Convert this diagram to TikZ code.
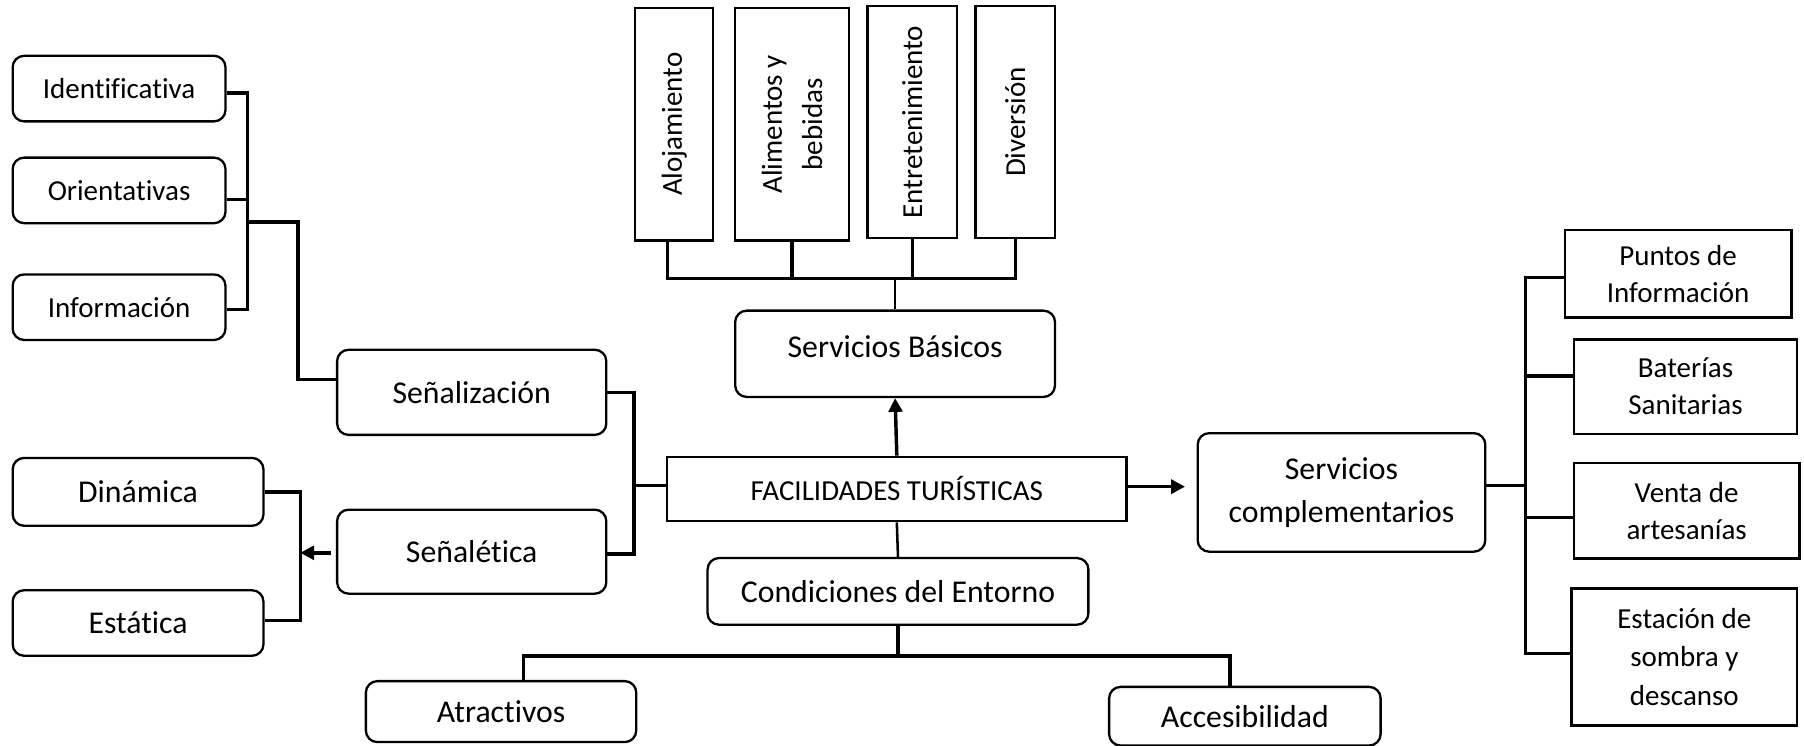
\documentclass[tikz,border=0pt]{standalone}
\usepackage{fontspec}
\setmainfont{Carlito}[Ligatures=NoCommon]
\usetikzlibrary{arrows.meta,calc}
\begin{document}
\begin{tikzpicture}[x=0.5pt,y=-0.5pt,
  smtext/.style={font=\fontsize{12.6}{16.5}\selectfont},
  mdtext/.style={font=\fontsize{13.8}{18.5}\selectfont},
  rbox/.style={draw, line width=1pt, rounded corners=5pt, inner sep=0pt, align=center},
  sbox/.style={draw, line width=1pt, inner sep=0pt, align=center},
  conn/.style={line width=1.5pt},
  thinconn/.style={line width=1.1pt},
  arr/.style={line width=1.5pt, -{Triangle[length=6pt,width=6pt]}},
]
\useasboundingbox (0,0) rectangle (1568,648);

% left column
\node[rbox,smtext,minimum width=92.5pt,minimum height=28.5pt] (ident) at (103.5,77) {Identificativa};
\node[rbox,smtext,minimum width=92.5pt,minimum height=28.5pt] (orient) at (103.5,165.5) {Orientativas};
\node[rbox,smtext,minimum width=92.5pt,minimum height=28.5pt] (info) at (103.5,267) {Información};
\node[rbox,mdtext,minimum width=117pt,minimum height=37pt] (senal) at (410,341) {Señalización};
\node[rbox,mdtext,minimum width=117pt,minimum height=36.5pt] (senalet) at (410,479.5) {Señalética};
\node[rbox,mdtext,minimum width=109pt,minimum height=29.5pt] (din) at (120,427.5) {Dinámica};
\node[rbox,mdtext,minimum width=109pt,minimum height=28.5pt] (est) at (120,541.5) {Estática};

% centre
\node[sbox,smtext,minimum width=199.5pt,minimum height=28pt] (fac) at (779.5,425) {FACILIDADES TURÍSTICAS};
\node[rbox,mdtext,minimum width=139pt,minimum height=37.5pt,text depth=6pt] (bas) at (778,307.5) {Servicios Básicos};
\node[sbox,smtext,rotate=90,minimum width=101pt,minimum height=34pt] (aloj) at (586,108) {Alojamiento};
\node[sbox,smtext,rotate=90,minimum width=101pt,minimum height=49.5pt,font=\fontsize{12.6}{17.5}\selectfont] (alim) at (688.5,108) {Alimentos y\\bebidas};
\node[sbox,smtext,rotate=90,minimum width=101pt,minimum height=39pt] (ent) at (793,106) {Entretenimiento};
\node[sbox,smtext,rotate=90,minimum width=101pt,minimum height=34.5pt] (div) at (882.5,106) {Diversión};
\node[rbox,mdtext,minimum width=165.5pt,minimum height=29pt] (cond) at (780.5,514) {Condiciones del Entorno};
\node[rbox,mdtext,minimum width=117.5pt,minimum height=26.5pt] (atr) at (435.5,618.5) {Atractivos};
\node[rbox,mdtext,minimum width=118pt,minimum height=25.5pt] (acc) at (1082,622.5) {Accesibilidad};

% right
\node[rbox,mdtext,minimum width=125pt,minimum height=51.5pt] (comp) at (1166,428) {Servicios\\complementarios};
\node[sbox,smtext,minimum width=98.5pt,minimum height=38pt,font=\fontsize{12.6}{16}\selectfont] (punt) at (1458.5,238) {Puntos de\\Información};
\node[sbox,smtext,minimum width=97pt,minimum height=41pt,font=\fontsize{12.6}{16}\selectfont] (bat) at (1465,336) {Baterías\\Sanitarias};
\node[sbox,smtext,minimum width=98pt,minimum height=41.5pt,font=\fontsize{12.6}{16}\selectfont] (venta) at (1466,444) {Venta de\\artesanías};
\node[sbox,smtext,minimum width=98pt,minimum height=59.5pt,font=\fontsize{12.6}{16.75}\selectfont] (estac) at (1464,571) {Estación de\\sombra y\\descanso};

% left brackets
\coordinate (lx) at (215,0);
\coordinate (lj) at (215,193);
\coordinate (lk) at (259,193);
\draw[conn] ($(ident.east)+(0,4)$) -| ($(lx |- info.east)+(0,2)$) -- ($(info.east)+(0,2)$);
\draw[conn] ($(orient.east)+(0,8)$) -- ($(lx |- orient.east)+(0,8)$);
\draw[conn] (lj) -- (lk) |- ($(senal.west)+(0,-11)$);

\coordinate (mx) at (551,0);
\draw[conn] (senal.east) -| ($(mx |- senalet.east)+(0,2)$) -- ($(senalet.east)+(0,2)$);
\draw[conn] ($(mx |- fac.west)+(0,-3)$) -- ($(fac.west)+(0,-3)$);

\coordinate (dx) at (261,0);
\draw[conn] (din.east) -| ($(dx |- est.east)+(0,-2)$) -- ($(est.east)+(0,-2)$);
\draw[arr] ($(senalet.west)+(-4,1)$) -- ($(dx |- senalet.west)+(0,1)$);

% top
\coordinate (tb) at (0,242);
\draw[arr] (fac.north) -- (bas.south);
\draw[conn] ($(aloj.west)+(-6,0)$) |- (div.west |- tb) -- (div.west);
\draw[conn] (alim.west) -- (alim.west |- tb);
\draw[conn] (ent.west) -- (ent.west |- tb);
\draw[thinconn] (bas.north) -- (bas.north |- tb);

% right
\draw[arr, shorten >=5pt] ($(fac.east)+(0,-2)$) -- ($(fac.east -| comp.west)+(0,-2)$);
\coordinate (rx) at (1326,0);
\draw[conn] ($(comp.east)+(0,-6)$) -- ($(rx |- comp.east)+(0,-6)$);
\draw[conn] ($(punt.west)+(0,3)$) -| ($(rx |- estac.west)+(0,-3)$) -- ($(estac.west)+(0,-3)$);
\draw[conn] ($(bat.west)+(0,-9)$) -- ($(rx |- bat.west)+(0,-9)$);
\draw[conn] ($(venta.west)+(0,6)$) -- ($(rx |- venta.west)+(0,6)$);

% bottom
\coordinate (bb) at (0,570);
\draw[thinconn] (fac.south) -- (cond.north);
\draw[conn] (cond.south) -- (cond.south |- bb);
\draw[conn] ($(atr.north)+(19.5,0)$) |- ($(acc.north |- bb)+(-13,0)$) -- ($(acc.north)+(-13,0)$);
\end{tikzpicture}
\end{document}
